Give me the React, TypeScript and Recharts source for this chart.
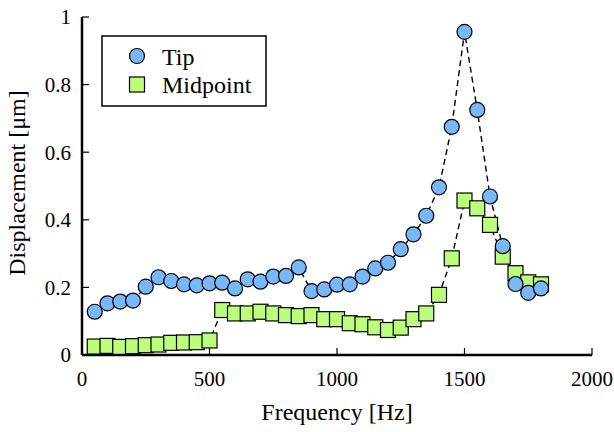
import { ComposedChart, Line, XAxis, YAxis } from 'recharts';

const freqs = [50, 100, 150, 200, 250, 300, 350, 400, 450, 500, 550, 600, 650, 700, 750, 800, 850, 900,
  950, 1000, 1050, 1100, 1150, 1200, 1250, 1300, 1350, 1400, 1450, 1500, 1550, 1600, 1650, 1700, 1750, 1800];

const tip = [0.128, 0.153, 0.158, 0.161, 0.202, 0.23, 0.219, 0.209, 0.206, 0.212, 0.214, 0.197, 0.224, 0.217,
  0.232, 0.234, 0.259, 0.189, 0.194, 0.208, 0.209, 0.232, 0.256, 0.273, 0.313, 0.357, 0.412, 0.496, 0.675,
  0.956, 0.725, 0.469, 0.322, 0.21, 0.184, 0.197];

const midpoint = [0.025, 0.027, 0.024, 0.026, 0.029, 0.031, 0.036, 0.037, 0.038, 0.043, 0.133, 0.123, 0.123,
  0.128, 0.123, 0.118, 0.115, 0.118, 0.106, 0.106, 0.094, 0.091, 0.082, 0.074, 0.081, 0.106, 0.123, 0.178,
  0.286, 0.457, 0.434, 0.385, 0.291, 0.242, 0.215, 0.209];

const xTicks = [0, 500, 1000, 1500, 2000];
const yTicks = [0, 0.2, 0.4, 0.6, 0.8, 1];

const data = freqs.map((f, i) => ({ f, tip: tip[i], mid: midpoint[i] }));

const FONT = 'Liberation Serif';
const BLUE = '#78b7f8';
const GREEN = '#bcfd7b';

const tickStyle = { fill: '#000', fontSize: 21, fontFamily: FONT };

function TipDot(p: any) {
  return <circle key={'t' + p.index} cx={p.cx} cy={p.cy} r={7.5} fill={BLUE} stroke="#000" strokeWidth={1.2} />;
}

function MidDot(p: any) {
  return (
    <rect key={'m' + p.index} x={p.cx - 7.5} y={p.cy - 7.5} width={15} height={15}
      fill={GREEN} stroke="#000" strokeWidth={1.2} />
  );
}

function LegendBox() {
  return (
    <svg width={166} height={72} style={{ position: 'absolute', left: 101, top: 35 }}>
      <rect x={1} y={1} width={164} height={70} fill="#fff" stroke="#000" strokeWidth={1.5} />
      <circle cx={36} cy={21} r={7.5} fill={BLUE} stroke="#000" strokeWidth={1.2} />
      <text x={61} y={30} fontSize={24} fontFamily={FONT}>Tip</text>
      <rect x={28.5} y={42} width={15} height={15} fill={GREEN} stroke="#000" strokeWidth={1.2} />
      <text x={61} y={58} fontSize={24} fontFamily={FONT}>Midpoint</text>
    </svg>
  );
}

export default function App() {
  return (
    <div style={{ position: 'absolute', left: 0, top: 0, width: 614, height: 432, fontFamily: FONT }}>
      <ComposedChart width={614} height={432} data={data}
        margin={{ top: 17, right: 22, bottom: 0, left: 0 }}>
        <XAxis xAxisId="b" type="number" dataKey="f" domain={[0, 2000]} ticks={xTicks} height={77}
          tickSize={-7} tickMargin={23} tick={tickStyle}
          axisLine={{ stroke: '#000', strokeWidth: 2.5 }} tickLine={{ stroke: '#000', strokeWidth: 1.2 }}
          label={{
            content: ({ viewBox }: any) => (
              <text x={viewBox.x + viewBox.width / 2} y={viewBox.y + 65} textAnchor="middle"
                fontSize={24} fontFamily={FONT}>Frequency [Hz]</text>
            ),
          }} />
        <XAxis xAxisId="t" orientation="top" type="number" dataKey="f" domain={[0, 2000]} ticks={xTicks}
          height={0} tickSize={-7} tickFormatter={() => ''}
          axisLine={{ stroke: '#000', strokeWidth: 2.5 }} tickLine={{ stroke: '#000', strokeWidth: 1.2 }} />
        <YAxis yAxisId="l" type="number" domain={[0, 1]} ticks={yTicks} width={82}
          tickSize={-7} tickMargin={18} tick={tickStyle}
          axisLine={{ stroke: '#000', strokeWidth: 2.5 }} tickLine={{ stroke: '#000', strokeWidth: 1.2 }}
          label={{
            content: ({ viewBox }: any) => (
              <text x={25} y={viewBox.y + viewBox.height / 2 - 3} textAnchor="middle"
                transform={`rotate(-90, 25, ${viewBox.y + viewBox.height / 2 - 3})`}
                fontSize={24} fontFamily={FONT}>Displacement [μm]</text>
            ),
          }} />
        <YAxis yAxisId="r" orientation="right" type="number" domain={[0, 1]} ticks={yTicks} width={0}
          tickSize={-7} tickFormatter={() => ''}
          axisLine={{ stroke: '#000', strokeWidth: 2.5 }} tickLine={{ stroke: '#000', strokeWidth: 1.2 }} />

        <Line xAxisId="b" yAxisId="l" dataKey="mid" stroke="none" dot={MidDot} isAnimationActive={false} />
        <Line xAxisId="b" yAxisId="l" dataKey="tip" stroke="none" dot={TipDot} isAnimationActive={false} />
        <Line xAxisId="b" yAxisId="l" type="linear" dataKey="mid" stroke="#000" strokeWidth={1.4}
          strokeDasharray="6 4" dot={false} isAnimationActive={false} />
        <Line xAxisId="b" yAxisId="l" type="linear" dataKey="tip" stroke="#000" strokeWidth={1.4}
          strokeDasharray="6 4" dot={false} isAnimationActive={false} />
      </ComposedChart>
      <LegendBox />
    </div>
  );
}
